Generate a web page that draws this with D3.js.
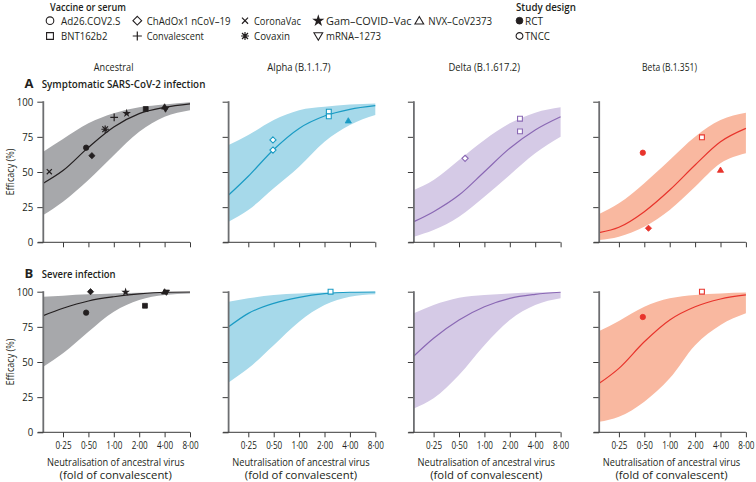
<!DOCTYPE html>
<html>
<head>
<meta charset="utf-8">
<script src="https://cdn.jsdelivr.net/npm/d3@7"></script>
<style>
  html, body { margin: 0; padding: 0; background: #fff; }
  svg { display: block; }
  text { font-family: 'Open Sans', Lato, sans-serif; fill: #231f20; }
</style>
</head>
<body>
<svg id="chart" width="756" height="482"></svg>
<script>
// ---------------- DATA ----------------
const variants = ["Ancestral", "Alpha (B.1.1.7)", "Delta (B.1.617.2)", "Beta (B.1.351)"];
const outcomes = ["Symptomatic SARS-CoV-2 infection", "Severe infection"];
const outcomeLetters = ["A", "B"];
const xTitleLines = ["Neutralisation of ancestral virus", "(fold of convalescent)"];
const xTicks = [0.25, 0.5, 1, 2, 4, 8];
const yTicks = [0, 25, 50, 75, 100];
// neutralisation (fold of convalescent) at which fitted values were read
const xSamples = [0.146, 0.25, 0.5, 1, 2, 4, 8];

// Symptomatic infection: fitted mean and 95% CI, one row per variant
const sympMean = [
  [42, 51, 67.5, 82, 91.5, 96, 98.5],
  [33.6, 47, 66, 81, 89.8, 94.6, 97.2],
  [14.7, 21.8, 33.6, 50.2, 66.9, 79.9, 89.3],
  [6.9, 10.7, 21.8, 37.2, 55, 71.5, 81]
];
const sympHigh = [
  [64.4, 73.5, 84.6, 91.7, 96, 98, 99.6],
  [69.2, 76.3, 87, 94, 96.4, 98, 98.8],
  [37.2, 44.3, 58.5, 72.8, 84.6, 92.2, 96],
  [20.1, 27.7, 42, 58.5, 75.1, 87, 92.2]
];
const sympLow = [
  [19.4, 28.9, 44.3, 62, 78.7, 89.3, 94],
  [14.7, 23, 38.4, 53.8, 71.5, 83.4, 90.5],
  [4, 8.7, 18.2, 32.4, 47.9, 63.3, 75.1],
  [1.6, 4, 11.1, 23, 39.5, 56.2, 63.3]
];
// Severe infection
const sevMean = [
  [83, 88.2, 93.4, 96.4, 98.4, 99.6, 99.8],
  [75, 84.6, 91.7, 96, 98.6, 99.6, 99.8],
  [54.3, 66.9, 79.9, 89.3, 95.3, 98.1, 99.6],
  [34.8, 45.5, 64.4, 79.9, 89.3, 94.8, 97.7]
];
const sevHigh = [
  [96.4, 97.2, 98.1, 98.8, 99.3, 99.6, 99.8],
  [92.9, 95.3, 97.7, 98.8, 99.5, 99.6, 99.7],
  [84.6, 90.5, 95.7, 97.7, 98.8, 99.4, 99.6],
  [72, 79.2, 89.3, 95.3, 97.7, 98.8, 99.4]
];
const sevLow = [
  [46.7, 56.2, 71.6, 85.8, 94.1, 97.7, 98.8],
  [35.5, 45.5, 62, 78.7, 90.5, 96.4, 98.1],
  [17, 24.2, 40.8, 62, 79.9, 90.5, 95.3],
  [7.5, 11.1, 21.8, 38.4, 62, 76.3, 84.6]
];

// Study estimates: [variant index, vaccine, design, fold, efficacy]
const sympStudies = [
  [0, "CoronaVac", "RCT", 0.172, 50.2],
  [0, "Ad26.COV2.S", "RCT", 0.47, 67.3],
  [0, "ChAdOx1 nCoV–19", "RCT", 0.55, 61.6],
  [0, "Covaxin", "RCT", 0.79, 80.4],
  [0, "Convalescent", "RCT", 1.01, 88.9],
  [0, "Gam–COVID–Vac", "RCT", 1.42, 91.7],
  [0, "BNT162b2", "RCT", 2.39, 94.8],
  [0, "NVX–CoV2373", "RCT", 4.0, 96.4],
  [0, "mRNA–1273", "RCT", 4.1, 94.6],
  [1, "ChAdOx1 nCoV–19", "TNCC", 0.49, 72.8],
  [1, "ChAdOx1 nCoV–19", "TNCC", 0.49, 65.6],
  [1, "BNT162b2", "TNCC", 2.25, 92.9],
  [1, "BNT162b2", "TNCC", 2.25, 89.6],
  [1, "NVX–CoV2373", "RCT", 3.83, 86.5],
  [2, "ChAdOx1 nCoV–19", "TNCC", 0.59, 59.7],
  [2, "BNT162b2", "TNCC", 2.64, 87.9],
  [2, "BNT162b2", "TNCC", 2.64, 78.9],
  [3, "Ad26.COV2.S", "RCT", 0.48, 63.7],
  [3, "ChAdOx1 nCoV–19", "RCT", 0.56, 10],
  [3, "BNT162b2", "TNCC", 2.41, 74.7],
  [3, "NVX–CoV2373", "RCT", 4.0, 51.4]
];
const sevStudies = [
  [0, "Ad26.COV2.S", "RCT", 0.47, 85.1],
  [0, "ChAdOx1 nCoV–19", "RCT", 0.53, 100],
  [0, "Gam–COVID–Vac", "RCT", 1.38, 99.7],
  [0, "BNT162b2", "RCT", 2.34, 90],
  [0, "NVX–CoV2373", "RCT", 4.0, 100],
  [0, "mRNA–1273", "RCT", 4.2, 99.5],
  [1, "BNT162b2", "TNCC", 2.36, 100],
  [3, "Ad26.COV2.S", "RCT", 0.48, 82],
  [3, "BNT162b2", "TNCC", 2.41, 100]
];

const legendVaccines = [
  ["Ad26.COV2.S", "circle"], ["ChAdOx1 nCoV–19", "diamond"], ["CoronaVac", "cross"],
  ["Gam–COVID–Vac", "star"], ["NVX–CoV2373", "triangle"],
  ["BNT162b2", "square"], ["Convalescent", "plus"], ["Covaxin", "asterisk"], ["mRNA–1273", "triangleDown"]
];
const legendDesigns = ["RCT", "TNCC"];

// ---------------- STYLE ----------------
const lineColors = ["#231f20", "#1a9bc4", "#8a68b4", "#e8342c"];
const bandColors = ["#a7a8ab", "#a6d9ea", "#d5cae6", "#f9b8a0"];
const shapeOf = {};
legendVaccines.forEach(([n, s]) => shapeOf[n] = s);

// widths of the condensed typeface in the original
const textWidths = {
  "Vaccine or serum": 76, "Study design": 60, "RCT": 18, "TNCC": 25,
  "Ad26.COV2.S": 59.5, "ChAdOx1 nCoV–19": 84, "CoronaVac": 47, "Gam–COVID–Vac": 85.5,
  "NVX–CoV2373": 64, "BNT162b2": 46.5, "Convalescent": 57.3, "Covaxin": 36, "mRNA–1273": 55,
  "Ancestral": 39.7, "Alpha (B.1.1.7)": 63.3, "Delta (B.1.617.2)": 71.7, "Beta (B.1.351)": 55,
  "Symptomatic SARS-CoV-2 infection": 164, "Severe infection": 74,
  "Neutralisation of ancestral virus": 137.6, "(fold of convalescent)": 112.3, "Efficacy (%)": 47
};
// horizontally squeeze a text node (condensed typeface emulation)
function squeeze(node, f) {
  const s = d3.select(node);
  const x = +s.attr("x") || 0, y = +s.attr("y") || 0;
  const base = s.attr("transform") || "";
  s.attr("x", null).attr("y", null)
    .attr("transform", `${base} translate(${x},${y}) scale(${f},1)`);
}
function fit(sel) {
  const w = textWidths[sel.text()];
  const n = sel.node().getComputedTextLength();
  if (w && n > 0) squeeze(sel.node(), w / n);
  return sel;
}
function condense(sel, f) { sel.each(function () { squeeze(this, f); }); }

// ---------------- LAYOUT ----------------
const svg = d3.select("#chart");
const colX0 = [43.3, 228.6, 413.9, 599.2];
const panelW = 146.7;
const rowY = [[242.3, 101.7], [432.3, 291.7]];

function symbolPath(shape, r) {
  const p = d3.path();
  switch (shape) {
    case "circle": p.arc(0, 0, r, 0, 2 * Math.PI); break;
    case "square": { const s = r * 0.9; p.rect(-s, -s, 2 * s, 2 * s); break; }
    case "diamond": p.moveTo(0, -r * 1.15); p.lineTo(r * 1.15, 0); p.lineTo(0, r * 1.15); p.lineTo(-r * 1.15, 0); p.closePath(); break;
    case "triangle": p.moveTo(0, -r * 1.1); p.lineTo(r * 1.15, r * 0.85); p.lineTo(-r * 1.15, r * 0.85); p.closePath(); break;
    case "triangleDown": p.moveTo(0, r * 1.1); p.lineTo(r * 1.15, -r * 0.85); p.lineTo(-r * 1.15, -r * 0.85); p.closePath(); break;
    case "cross": { const s = r * 0.8; p.moveTo(-s, -s); p.lineTo(s, s); p.moveTo(s, -s); p.lineTo(-s, s); break; }
    case "plus": { const s = r * 1.2; p.moveTo(-s, 0); p.lineTo(s, 0); p.moveTo(0, -s); p.lineTo(0, s); break; }
    case "asterisk": { const s = r * 1.05; p.moveTo(-s, 0); p.lineTo(s, 0); p.moveTo(0, -s); p.lineTo(0, s);
      const d = s * 0.75; p.moveTo(-d, -d); p.lineTo(d, d); p.moveTo(d, -d); p.lineTo(-d, d); break; }
    case "star": return d3.symbol(d3.symbolStar, r * r * 3.2)();
  }
  return p.toString();
}
const strokeOnly = new Set(["cross", "plus", "asterisk"]);

function drawMarker(g, shape, filled, color, r, x, y) {
  const el = g.append("path").attr("d", symbolPath(shape, r))
    .attr("transform", `translate(${x},${y})`);
  if (strokeOnly.has(shape)) {
    el.attr("fill", "none").attr("stroke", color).attr("stroke-width", 1.2);
  } else if (shape === "star") {
    el.attr("fill", color).attr("stroke", "none");
  } else if (filled) {
    el.attr("fill", color).attr("stroke", color).attr("stroke-width", 0.8);
  } else {
    el.attr("fill", "#fff").attr("stroke", color).attr("stroke-width", 1.1);
  }
}

// ---------------- LEGEND ----------------
const FS = 11;
const leg = svg.append("g");
fit(leg.append("text").attr("x", 50).attr("y", 10.5).attr("font-weight", 600).attr("font-size", FS).text("Vaccine or serum"));
const legCols = [50, 137.3, 245, 318.3, 419.3];
const legTextX = [61, 146.7, 254, 326, 428.3];
legendVaccines.forEach(([name, shape], i) => {
  const row = i < 5 ? 0 : 1;
  const col = i < 5 ? i : i - 5;
  const cy = row === 0 ? 20.7 : 36;
  drawMarker(leg, shape, false, "#231f20", 3.8, legCols[col], cy);
  fit(leg.append("text").attr("x", legTextX[col]).attr("y", cy + 4)
    .attr("font-size", FS).text(name));
});
fit(leg.append("text").attr("x", 516).attr("y", 10.5).attr("font-weight", 600).attr("font-size", FS).text("Study design"));
legendDesigns.forEach((d, i) => {
  const cy = i === 0 ? 20.7 : 36;
  drawMarker(leg, "circle", i === 0, "#231f20", 3.4, 519.5, cy);
  fit(leg.append("text").attr("x", 525).attr("y", cy + 4).attr("font-size", FS).text(d));
});

// ---------------- PANELS ----------------
const fmt = d => d.toFixed(2).replace(".", "·");
const meanSets = [sympMean, sevMean], highSets = [sympHigh, sevHigh], lowSets = [sympLow, sevLow];
const studySets = [sympStudies, sevStudies];

variants.forEach((v, c) => {
  const x0 = colX0[c];
  fit(svg.append("text").attr("x", x0 + panelW / 2 - 3).attr("y", 71)
    .attr("text-anchor", "middle").attr("font-size", FS).text(v));
});

outcomes.forEach((o, r) => {
  const [yb, yt] = rowY[r];
  svg.append("text").attr("x", 24.5).attr("y", yt - 13.5).attr("font-weight", "bold").attr("font-size", 13).text(outcomeLetters[r]);
  fit(svg.append("text").attr("x", 41.7).attr("y", yt - 13.5).attr("font-weight", 600).attr("font-size", 11.5).text(o));
  fit(svg.append("text").attr("transform", `translate(14,${(yb + yt) / 2}) rotate(-90)`)
    .attr("text-anchor", "middle").attr("font-size", FS).text("Efficacy (%)"));

  variants.forEach((v, c) => {
    const x0 = colX0[c];
    const x = d3.scaleLog().base(2).domain([xSamples[0], 8]).range([x0, x0 + panelW]);
    const y = d3.scaleLinear().domain([0, 100]).range([yb, yt]);
    const g = svg.append("g");
    const pts = xSamples.map((xs, k) => ({ x: xs, m: meanSets[r][c][k], lo: lowSets[r][c][k], hi: highSets[r][c][k] }));

    g.append("path").datum(pts)
      .attr("d", d3.area().x(d => x(d.x)).y0(d => y(d.lo)).y1(d => y(d.hi)).curve(d3.curveMonotoneX))
      .attr("fill", bandColors[c]);
    g.append("path").datum(pts)
      .attr("d", d3.line().x(d => x(d.x)).y(d => y(d.m)).curve(d3.curveMonotoneX))
      .attr("fill", "none").attr("stroke", lineColors[c]).attr("stroke-width", 1.2);

    // axes
    const ya = d3.axisLeft(y).tickValues(yTicks).tickSize(6).tickPadding(4)
      .tickFormat(c === 0 ? d3.format("d") : () => "");
    const yg = g.append("g").attr("transform", `translate(${x0},0)`).call(ya);
    yg.select(".domain").remove();
    yg.selectAll(".tick line").attr("stroke", "#3a3a3a");
    yg.selectAll(".tick text").attr("font-size", 11.5).attr("font-family", null).attr("fill", "#231f20");
    condense(yg.selectAll(".tick text"), 0.84);
    g.append("line").attr("x1", x0).attr("x2", x0).attr("y1", y(0)).attr("y2", y(100) - 0.5)
      .attr("stroke", "#6d6e71").attr("stroke-width", 1.8);

    const xa = d3.axisBottom(x).tickValues(xTicks).tickSize(5).tickPadding(4)
      .tickFormat(r === 1 ? fmt : () => "");
    const xg = g.append("g").attr("transform", `translate(0,${yb})`).call(xa);
    xg.select(".domain").remove();
    xg.selectAll(".tick line").attr("stroke", "#3a3a3a");
    xg.selectAll(".tick text").attr("font-size", 11).attr("font-family", null).attr("fill", "#231f20");
    condense(xg.selectAll(".tick text"), 0.74);
    g.append("line").attr("x1", x0 - 5.5).attr("x2", x0 + panelW).attr("y1", yb).attr("y2", yb)
      .attr("stroke", "#3a3a3a").attr("stroke-width", 1);

    // studies
    studySets[r].filter(s => s[0] === c).forEach(s => {
      const sh = shapeOf[s[1]];
      const rr = sh === "plus" ? 3.2 : (sh === "asterisk" ? 3.6 : (sh === "cross" ? 3.2 : 2.7));
      drawMarker(g, sh, s[2] === "RCT", lineColors[c], rr, x(s[3]), y(s[4]));
    });

    if (r === 1) {
      xTitleLines.forEach((line, k) => {
        fit(g.append("text").attr("x", x0 + panelW / 2 - 1).attr("y", 465.5 + k * 13.2)
          .attr("text-anchor", "middle").attr("font-family", "Lato, 'Open Sans', sans-serif")
          .attr("font-size", 10.8).text(line));
      });
    }
  });
});
</script>
</body>
</html>
